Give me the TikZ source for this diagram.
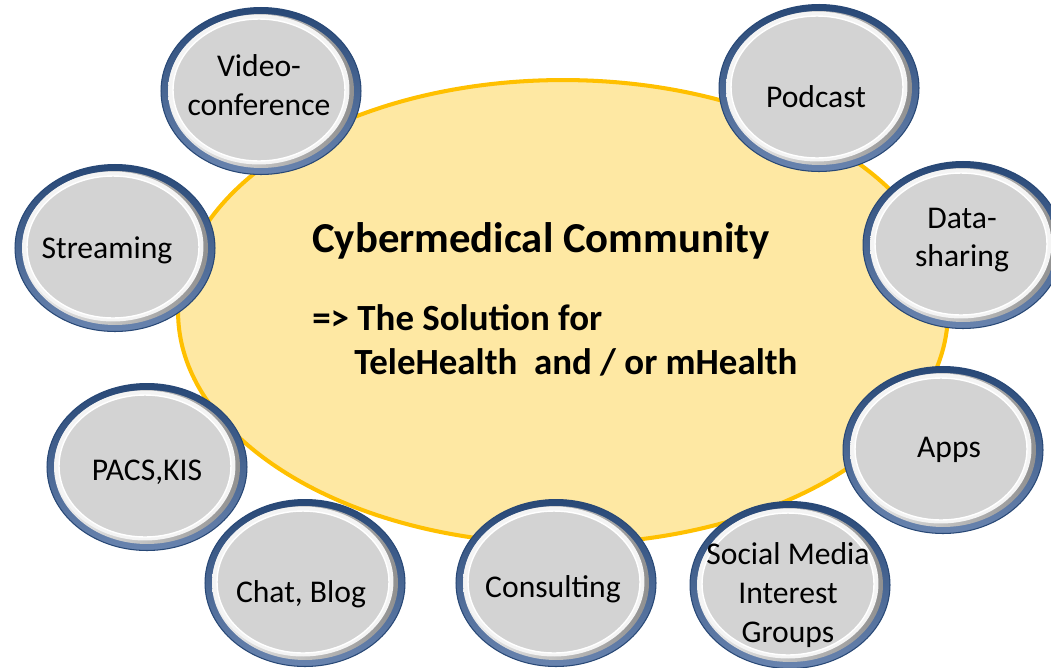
\documentclass[tikz,border=0pt]{standalone}
\usepackage{fontspec}
\setmainfont{Carlito}
\usetikzlibrary{shapes.geometric}

\definecolor{ringdark}{RGB}{40,72,118}
\definecolor{ringmid}{RGB}{105,132,175}
\definecolor{rimwhite}{RGB}{244,244,244}
\definecolor{rimshade}{RGB}{140,140,140}
\definecolor{bubblegray}{RGB}{211,211,211}
\definecolor{hubfill}{RGB}{254,232,163}
\definecolor{hubline}{RGB}{255,192,0}

\tikzstyle{hub} = [ellipse, draw=hubline, fill=hubfill, line width=2.3pt,
	minimum width=15.4cm, minimum height=9.28cm, inner sep=0pt]
\tikzstyle{bubble} = [ellipse, minimum width=4cm, minimum height=3.34cm, inner sep=0pt,
	draw=ringdark, line width=0.6pt, top color=ringdark, bottom color=ringmid,
	path picture={
		\shade[left color=rimwhite, right color=rimshade]
			(path picture bounding box.center) ellipse [x radius=1.86cm, y radius=1.54cm];
		\fill[rimwhite] ([xshift=-0.04cm,yshift=0.03cm]path picture bounding box.center)
			ellipse [x radius=1.81cm, y radius=1.50cm];
		\draw[white, line width=0.8pt, fill=bubblegray]
			([xshift=-0.04cm,yshift=0.02cm]path picture bounding box.center)
			ellipse [x radius=1.72cm, y radius=1.42cm];
	}]
\tikzstyle{bubtext} = [align=center, inner sep=0pt, font=\fontsize{18}{22}\selectfont]
\tikzstyle{title} = [anchor=west, font=\fontsize{24.3}{29}\selectfont\bfseries, inner sep=0pt]

\begin{document}
\begin{tikzpicture}[x=0.02cm, y=-0.02cm]
\useasboundingbox (0,0) rectangle (1051,667);

% centre
\node [hub] (hub) at (563,312) {};
\node [title] (head) at (312,241) {Cybermedical Community};
\node [title, align=left, font=\fontsize{21}{25}\selectfont\bfseries] (sol) at (312,340)
	{=> The Solution for\\\hspace*{0.84cm}TeleHealth\ \ and / or mHealth};

% bubbles
\node [bubble] (video) at (261,91) {};
\node [bubble] (podcast) at (819,88) {};
\node [bubble] (stream) at (115,248) {};
\node [bubble] (data) at (963,245) {};
\node [bubble] (pacs) at (147,467) {};
\node [bubble] (apps) at (943,450) {};
\node [bubble] (chat) at (305,583) {};
\node [bubble] (consult) at (556,583) {};
\node [bubble] (social) at (790,585) {};

% bubble texts
\node [bubtext] (videotxt) at (259,85) {Video-\\conference};
\node [bubtext] (podcasttxt) at (816,97) {Podcast};
\node [bubtext] (streamtxt) at (107,250) {Streaming};
\node [bubtext] (datatxt) at (962,240) {Data-\\sharing};
\node [bubtext] (pacstxt) at (147,472) {PACS,KIS};
\node [bubtext] (appstxt) at (949,450) {Apps};
\node [bubtext] (chattxt) at (301,594) {Chat, Blog};
\node [bubtext] (consulttxt) at (553,589) {Consulting};
\node [bubtext] (socialtxt) at (788,595) {Social Media\\Interest\\Groups};
\end{tikzpicture}
\end{document}
